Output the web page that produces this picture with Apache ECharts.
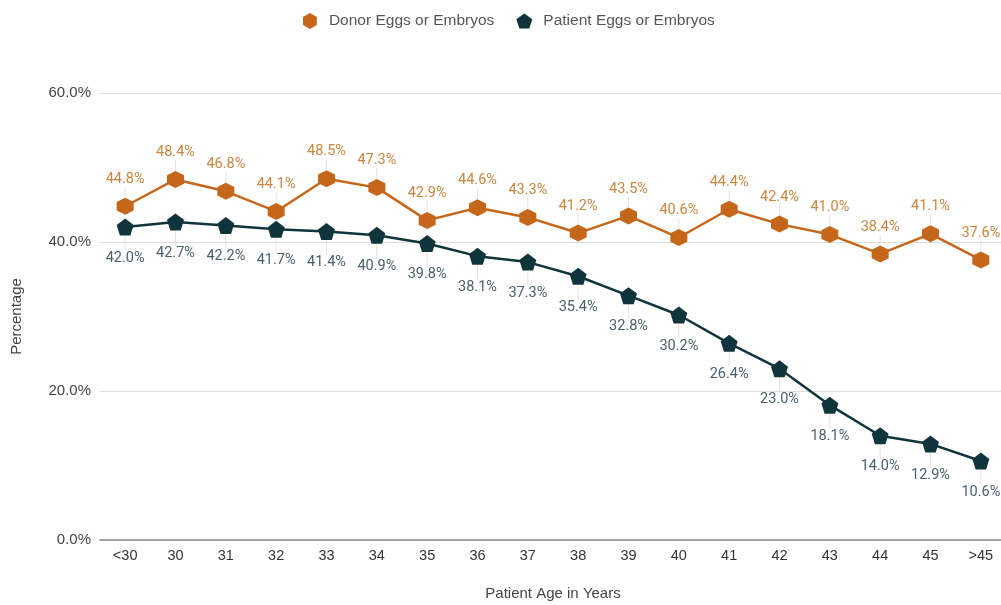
<!DOCTYPE html>
<html>
<head>
<meta charset="utf-8">
<script src="https://cdn.jsdelivr.net/npm/echarts@6/dist/echarts.min.js"></script>
<style>
    html, body { margin: 0; padding: 0; background: #fff; }
    #chart { width: 1001px; height: 605px; }
</style>
</head>
<body>
<div id="chart"></div>
<script>
    var ages = ['<30', '30', '31', '32', '33', '34', '35', '36', '37', '38', '39', '40', '41', '42', '43', '44', '45', '>45'];
    var donor = [44.8, 48.4, 46.8, 44.1, 48.5, 47.3, 42.9, 44.6, 43.3, 41.2, 43.5, 40.6, 44.4, 42.4, 41.0, 38.4, 41.1, 37.6];
    var patient = [42.0, 42.7, 42.2, 41.7, 41.4, 40.9, 39.8, 38.1, 37.3, 35.4, 32.8, 30.2, 26.4, 23.0, 18.1, 14.0, 12.9, 10.6];

    var hexagon = 'path://M50,0 L93.3,25 L93.3,75 L50,100 L6.7,75 L6.7,25 Z';
    var pentagon = 'path://M50,0 L97.6,34.5 L79.4,90.5 L20.6,90.5 L2.4,34.5 Z';

    var chart = echarts.init(document.getElementById('chart'));
    var font = 'Roboto, Arial, sans-serif';
    var sans = 'Liberation Sans, Arial, sans-serif';

    function fmt(p) { return p.value.toFixed(1) + '%'; }

    chart.setOption({
        animation: false,
        textStyle: { fontFamily: font },
        legend: {
            top: 8,
            left: 298,
            itemGap: 22,
            itemWidth: 16,
            itemHeight: 16,
            textStyle: { color: '#555', fontSize: 15.5, fontFamily: sans, padding: [0, 0, 0, 6] },
            data: [
                { name: 'Donor Eggs or Embryos', icon: hexagon },
                { name: 'Patient Eggs or Embryos', icon: pentagon }
            ]
        },
        grid: { left: 100, right: -5, top: 93, bottom: 65, outerBoundsMode: 'none', containLabel: false },
        xAxis: {
            type: 'category',
            data: ages,
            name: 'Patient Age in Years',
            nameLocation: 'middle',
            nameGap: 46,
            nameTextStyle: { color: '#444', fontSize: 15, fontFamily: sans },
            axisLine: { lineStyle: { color: '#888', width: 1.5 } },
            axisTick: { show: false },
            axisLabel: { color: '#333', fontSize: 14.5, fontFamily: sans, margin: 8 }
        },
        yAxis: {
            type: 'value',
            min: 0,
            max: 60,
            interval: 20,
            name: 'Percentage',
            nameLocation: 'middle',
            nameGap: 76,
            nameTextStyle: { color: '#444', fontSize: 15, fontFamily: sans },
            axisLine: { show: false },
            axisTick: { show: false },
            axisLabel: { color: '#444', fontSize: 15, fontFamily: sans, margin: 9, formatter: function (v) { return v.toFixed(1) + '%'; } },
            splitLine: { lineStyle: { color: '#ddd' } }
        },
        series: [
            {
                name: 'Donor Eggs or Embryos',
                type: 'line',
                data: donor,
                symbol: hexagon,
                symbolSize: 17,
                color: '#c5671a',
                lineStyle: { width: 2.5, color: '#c5671a' },
                itemStyle: { color: '#c5671a' },
                label: { show: true, position: 'top', distance: 4, color: '#c98640', fontSize: 14.5, formatter: fmt },
                labelLayout: { dy: -7 },
                labelLine: { show: true, lineStyle: { color: '#f2dcdc', width: 1 } }
            },
            {
                name: 'Patient Eggs or Embryos',
                type: 'line',
                data: patient,
                symbol: pentagon,
                symbolSize: 17,
                color: '#10343c',
                lineStyle: { width: 2.5, color: '#10343c' },
                itemStyle: { color: '#10343c' },
                label: { show: true, position: 'bottom', distance: 4, color: '#4a6068', fontSize: 14.5, formatter: fmt },
                labelLayout: { dy: 11 },
                labelLine: { show: true, lineStyle: { color: '#f2dcdc', width: 1 } }
            }
        ]
    });
</script>
</body>
</html>
